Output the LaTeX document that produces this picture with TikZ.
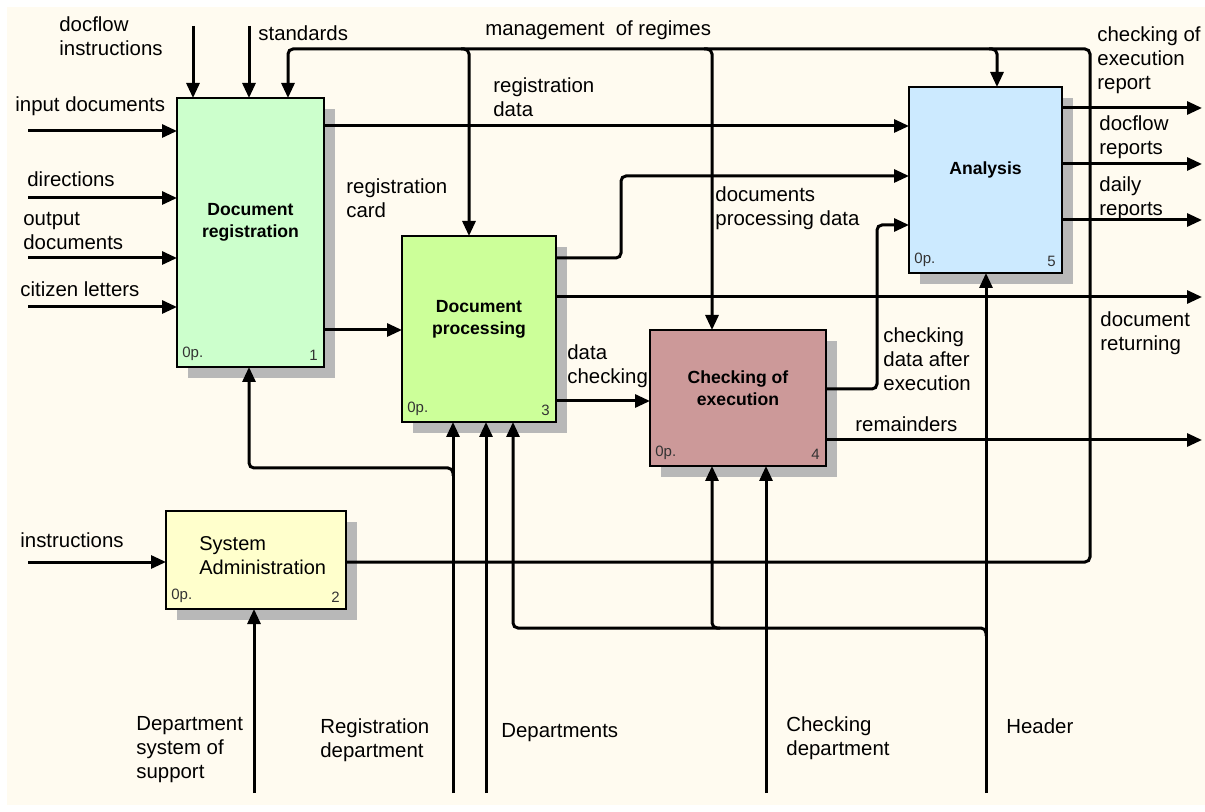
\documentclass[tikz,border=0pt]{standalone}
\usepackage{fontspec}
\setmainfont{Liberation Sans}
\usetikzlibrary{arrows.meta,shadows}

\definecolor{paper}{RGB}{255,251,240}
\definecolor{regfill}{RGB}{204,255,204}
\definecolor{admfill}{RGB}{255,255,204}
\definecolor{procfill}{RGB}{204,255,153}
\definecolor{chkfill}{RGB}{204,153,153}
\definecolor{anafill}{RGB}{204,234,255}

\tikzset{
	fn/.style={draw, line width=1pt, inner sep=0pt, outer sep=0pt,
		drop shadow={shadow xshift=5.5pt, shadow yshift=-5.5pt, fill=black!28, opacity=1}},
	flow/.style={line width=1.5pt, rounded corners=2.5pt, -{Triangle[length=7.5pt,width=6.5pt]}},
	lbl/.style={anchor=west, align=left, inner sep=0pt, yshift=-1pt, font=\fontsize{10.2}{12}\selectfont},
	ttl/.style={align=center, inner sep=0pt, font=\bfseries\fontsize{8.8}{11}\selectfont},
	tag/.style={inner sep=0pt, text=black!80, font=\fontsize{7.5}{8}\selectfont},
}

\begin{document}
\begin{tikzpicture}[x=0.5pt,y=-0.5pt]
		\useasboundingbox (0,0) rectangle (1205,812);
		\fill[paper] (7,7) rectangle (1205,805);
		% activity boxes
		\node[fn, fill=regfill, minimum width=73.5pt, minimum height=134.5pt] (reg) at (250.5,232.5) {};
		\node[fn, fill=admfill, minimum width=90pt, minimum height=49pt] (adm) at (256,560) {};
		\node[fn, fill=procfill, minimum width=77pt, minimum height=93pt] (proc) at (479,329) {};
		\node[fn, fill=chkfill, minimum width=88pt, minimum height=68pt] (chk) at (738,398) {};
		\node[fn, fill=anafill, minimum width=76.5pt, minimum height=93pt] (ana) at (985.5,180) {};
		\node[ttl] (regT) at ([yshift=5pt]reg.center) {Document\\registration};
		\node[ttl] (procT) at ([yshift=5pt]proc.center) {Document\\processing};
		\node[ttl] (chkT) at ([yshift=5pt]chk.center) {Checking of\\execution};
		\node[ttl] (anaT) at ([yshift=5pt]ana.center) {Analysis};
		\node[lbl, font=\fontsize{10}{12}\selectfont] (admT) at (199,554) {System\\Administration};
		\foreach \b/\n in {reg/1,adm/2,proc/3,chk/4,ana/5} {
			\node[tag, anchor=south west] (\b op) at ([shift={(2.5pt,3pt)}]\b.south west) {0p.};
			\node[tag, anchor=south east] (\b no) at ([shift={(-3pt,3pt)}]\b.south east) {\n};
		}
		% inputs
		\foreach \y in {131,198,258,307} {
			\coordinate (in\y) at (28,\y);
			\draw[flow] (in\y) -- (in\y -| reg.west);
		}
		\node[lbl] (inDoc) at (15,104) {input documents};
		\node[lbl] (dirs) at (27,177) {directions};
		\node[lbl] (outDoc) at (23,229) {output\\documents};
		\node[lbl] (citz) at (20,287) {citizen letters};
		\coordinate (inAdm) at (28,562);
		\draw[flow] (inAdm) -- (inAdm -| adm.west);
		\node[lbl] (instr) at (20,538) {instructions};
		% controls
		\coordinate (ctl1) at (193,26);
		\coordinate (ctl2) at (249,26);
		\draw[flow] (ctl1) -- (ctl1 |- reg.north);
		\draw[flow] (ctl2) -- (ctl2 |- reg.north);
		\node[lbl] (dfi) at (59,34) {docflow\\instructions};
		\node[lbl] (std) at (258,31) {standards};
		\coordinate (mgA) at (1090,562);
		\coordinate (mgB) at (1090,49);
		\coordinate (mgC) at (288,49);
		\draw[flow] (adm.east |- mgA) -- (mgA) -- (mgB) -- (mgC) -- (mgC |- reg.north);
		\foreach \x/\b in {469/proc,712/chk,997/ana} {
			\draw[flow] (\x-8,49) -- (\x,49) -- (\x,49 |- \b.north);
		}
		\node[lbl] (mgmt) at (485,28) {management\ \ of regimes};
		% outputs
		\draw[flow] (reg.east |- 0,126) -- (ana.west |- 0,126);
		\node[lbl] (regData) at (493,95) {registration\\data};
		\draw[flow] (reg.east |- 0,330) -- (proc.west |- 0,330);
		\node[lbl] (regCard) at (346,196) {registration\\card};
		\draw[flow] (proc.east |- 0,258) -- (621,258) -- (621,176) -- (ana.west |- 0,176);
		\node[lbl] (docProc) at (715,206) {documents\\processing data};
		\coordinate (outRet) at (1202,297);
		\draw[flow] (proc.east |- outRet) -- (outRet);
		\node[lbl] (docRet) at (1100,331) {document\\returning};
		\draw[flow] (proc.east |- 0,401) -- (chk.west |- 0,401);
		\node[lbl] (dataChk) at (567,364) {data\\checking};
		\draw[flow] (chk.east |- 0,389) -- (877,389) -- (877,225) -- (ana.west |- 0,225);
		\node[lbl] (chkData) at (883,357) {checking\\data after\\execution};
		\coordinate (outRem) at (1202,440);
		\draw[flow] (chk.east |- outRem) -- (outRem);
		\node[lbl] (remd) at (855,422) {remainders};
		\foreach \y in {108,164,220} {
			\coordinate (out\y) at (1202,\y);
			\draw[flow] (out\y -| ana.east) -- (out\y);
		}
		\node[lbl] (chkRep) at (1097,58) {checking of\\execution\\report};
		\node[lbl] (dfRep) at (1099,135) {docflow\\reports};
		\node[lbl] (dayRep) at (1099,196) {daily\\reports};
		% mechanisms
		\draw[flow] (254,793) -- (254,793 |- adm.south);
		\draw[flow] (453,793) -- (453,793 |- proc.south);
		\draw[flow] (453,476) -- (453,468) -- (249,468) -- (249,468 |- reg.south);
		\draw[flow] (486,793) -- (486,793 |- proc.south);
		\draw[flow] (986,793) -- (986,793 |- ana.south);
		\draw[flow] (986,636) -- (986,628) -- (513,628) -- (513,628 |- proc.south);
		\draw[flow] (720,628) -- (712,628) -- (712,628 |- chk.south);
		\draw[flow] (766,793) -- (766,793 |- chk.south);
		\node[lbl] (supp) at (136,748) {Department\\system of\\support};
		\node[lbl] (regDep) at (320,738) {Registration\\department};
		\node[lbl] (deps) at (501,731) {Departments};
		\node[lbl] (chkDep) at (786,736) {Checking\\department};
		\node[lbl] (head) at (1006,724) {Header};
\end{tikzpicture}
\end{document}
